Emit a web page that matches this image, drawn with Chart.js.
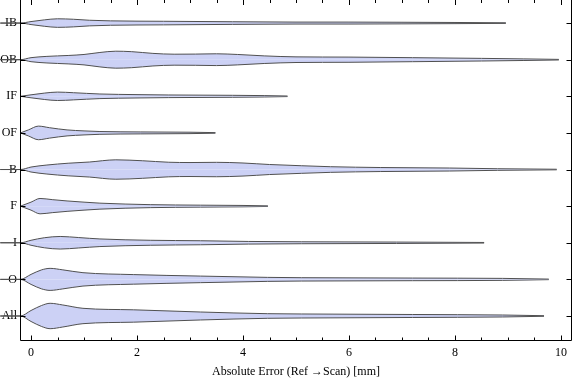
<!DOCTYPE html>
<html><head><meta charset="utf-8">
<script src="https://cdn.jsdelivr.net/npm/chart.js@4"></script>
<style>html,body{margin:0;padding:0;background:#fff}</style>
</head><body>
<canvas id="c" width="576" height="381"></canvas>
<script>
// Categories, bottom to top
const categories = ['All', 'O', 'I', 'F', 'B', 'OF', 'IF', 'OB', 'IB'];

// Violin profiles: x = absolute error [mm], w = half-width (in category units)
const xIB = [-0.58, -0.2, 0.0, 0.25, 0.5, 0.8, 1.1, 1.5, 2.5, 3.8, 5.0, 6.0, 7.0, 8.0, 8.96];
const wIB = [0, 0, 0.041, 0.087, 0.117, 0.104, 0.077, 0.060, 0.049, 0.036, 0.027, 0.027, 0.022, 0.016, 0.008];

const xOB = [-0.58, -0.2, 0.0, 0.3, 0.7, 1.0, 1.3, 1.6, 1.9, 2.3, 2.7, 3.1, 3.5, 3.9, 4.4, 5.0, 6.0, 7.2, 8.5, 9.3, 9.96];
const wOB = [0, 0, 0.055, 0.090, 0.115, 0.142, 0.197, 0.232, 0.219, 0.172, 0.150, 0.153, 0.161, 0.142, 0.104, 0.077, 0.071, 0.055, 0.036, 0.022, 0.008];

const xIF = [-0.2, 0.0, 0.25, 0.5, 0.8, 1.3, 2.0, 2.6, 3.8, 4.4, 4.84];
const wIF = [0, 0.041, 0.087, 0.115, 0.098, 0.063, 0.046, 0.036, 0.027, 0.019, 0.008];

const xOF = [-0.2, -0.05, 0.14, 0.35, 0.68, 1.0, 1.3, 2.06, 3.0, 3.48];
const wOF = [0, 0.082, 0.186, 0.142, 0.082, 0.055, 0.038, 0.027, 0.019, 0.008];

const xB = [-0.58, -0.2, 0.0, 0.3, 0.7, 1.1, 1.6, 2.1, 2.6, 3.0, 3.5, 4.0, 4.5, 5.1, 5.65, 6.6, 7.9, 8.8, 9.92];
const wB = [0, 0, 0.068, 0.123, 0.172, 0.205, 0.265, 0.240, 0.199, 0.191, 0.197, 0.178, 0.137, 0.104, 0.077, 0.055, 0.041, 0.022, 0.008];

const xF = [-0.2, 0.0, 0.17, 0.4, 0.68, 1.0, 1.3, 2.25, 3.2, 4.0, 4.47];
const wF = [0, 0.109, 0.210, 0.178, 0.142, 0.109, 0.082, 0.041, 0.027, 0.019, 0.008];

const xI = [-0.58, -0.2, 0.0, 0.25, 0.55, 0.9, 1.3, 2.25, 3.2, 4.1, 5.1, 6.9, 8.55];
const wI = [0, 0, 0.068, 0.137, 0.172, 0.142, 0.104, 0.068, 0.055, 0.036, 0.027, 0.019, 0.008];

const xO = [-0.58, -0.2, 0.0, 0.2, 0.36, 0.6, 0.98, 1.93, 3.2, 4.46, 5.1, 7.2, 8.9, 9.77];
const wO = [0, 0, 0.137, 0.260, 0.301, 0.260, 0.183, 0.131, 0.090, 0.055, 0.046, 0.036, 0.027, 0.008];

const xAll = [-0.58, -0.2, 0.0, 0.2, 0.36, 0.6, 0.98, 1.93, 3.2, 4.46, 5.1, 7.2, 8.9, 9.68];
const wAll = [0, 0, 0.150, 0.287, 0.347, 0.301, 0.210, 0.169, 0.109, 0.063, 0.055, 0.041, 0.027, 0.008];

const xMajorTicks = [0, 2, 4, 6, 8, 10];
const xMinorTicks = [0.5, 1, 1.5, 2.5, 3, 3.5, 4.5, 5, 5.5, 6.5, 7, 7.5, 8.5, 9, 9.5];
const xTitle = 'Absolute Error (Ref \u2192Scan) [mm]';

const profiles = {
  All: [xAll, wAll], O: [xO, wO], I: [xI, wI], F: [xF, wF], B: [xB, wB],
  OF: [xOF, wOF], IF: [xIF, wIF], OB: [xOB, wOB], IB: [xIB, wIB]
};

const FILL = 'rgba(204,209,245,1)';
const EDGE = '#505050';

const datasets = [];
categories.forEach((cat, i) => {
  const [xs, ws] = profiles[cat];
  [1, -1].forEach(sign => {
    datasets.push({
      data: xs.map((x, k) => ({ x: x, y: i + sign * ws[k] })),
      showLine: true,
      pointRadius: 0,
      borderColor: EDGE,
      borderWidth: 1,
      backgroundColor: FILL,
      fill: { value: i },
      cubicInterpolationMode: 'monotone',
      clip: false
    });
  });
});

const frameTicks = {
  id: 'frameTicks',
  afterDatasetsDraw(chart) {
    const { ctx, chartArea: a, scales: { x, y } } = chart;
    ctx.save();
    ctx.strokeStyle = '#000';
    ctx.lineWidth = 1;
    ctx.beginPath();
    const L = a.left + 0.5, R = a.right - 0.5, B = a.bottom - 0.5;
    ctx.moveTo(L, a.top); ctx.lineTo(L, B); ctx.lineTo(R, B); ctx.lineTo(R, a.top);
    const tick = (v, len) => {
      const px = Math.round(x.getPixelForValue(v)) + 0.5;
      ctx.moveTo(px, B); ctx.lineTo(px, B - len);
      ctx.moveTo(px, a.top); ctx.lineTo(px, a.top + len);
    };
    xMajorTicks.forEach(v => tick(v, 5));
    xMinorTicks.forEach(v => tick(v, 3));
    categories.forEach((c, i) => {
      const py = Math.round(y.getPixelForValue(i)) + 0.5;
      ctx.moveTo(L, py); ctx.lineTo(L + 5, py);
      ctx.moveTo(R, py); ctx.lineTo(R - 5, py);
    });
    ctx.stroke();
    ctx.restore();
  }
};

const font = { family: '"Liberation Serif", "DejaVu Serif", serif', size: 12 };

new Chart(document.getElementById('c'), {
  type: 'scatter',
  data: { datasets },
  options: {
    responsive: false,
    animation: false,
    layout: { padding: { top: 0, right: 4, left: 0, bottom: 0 } },
    plugins: { legend: { display: false }, tooltip: { enabled: false } },
    scales: {
      x: {
        type: 'linear',
        min: -0.208, max: 10.208,
        grid: { display: false, drawTicks: false },
        border: { display: false },
        afterBuildTicks: s => { s.ticks = xMajorTicks.map(v => ({ value: v })); },
        afterFit: s => { s.height = 40; s.paddingLeft = 0; s.paddingRight = 0; },
        ticks: { font, color: '#000', padding: 5, maxRotation: 0, autoSkip: false },
        title: { display: true, text: xTitle, font, color: '#000', padding: { top: 0, bottom: 2 } }
      },
      y: {
        type: 'linear',
        min: -0.683, max: 8.63,
        grid: { display: false, drawTicks: false },
        border: { display: false },
        afterBuildTicks: s => { s.ticks = categories.map((c, i) => ({ value: i })); },
        afterFit: s => { s.width = 20; s.paddingTop = 0; s.paddingBottom = 0; },
        ticks: { font, color: '#000', padding: 3, autoSkip: false, callback: v => categories[v] }
      }
    }
  },
  plugins: [frameTicks]
});
</script>
</body></html>
